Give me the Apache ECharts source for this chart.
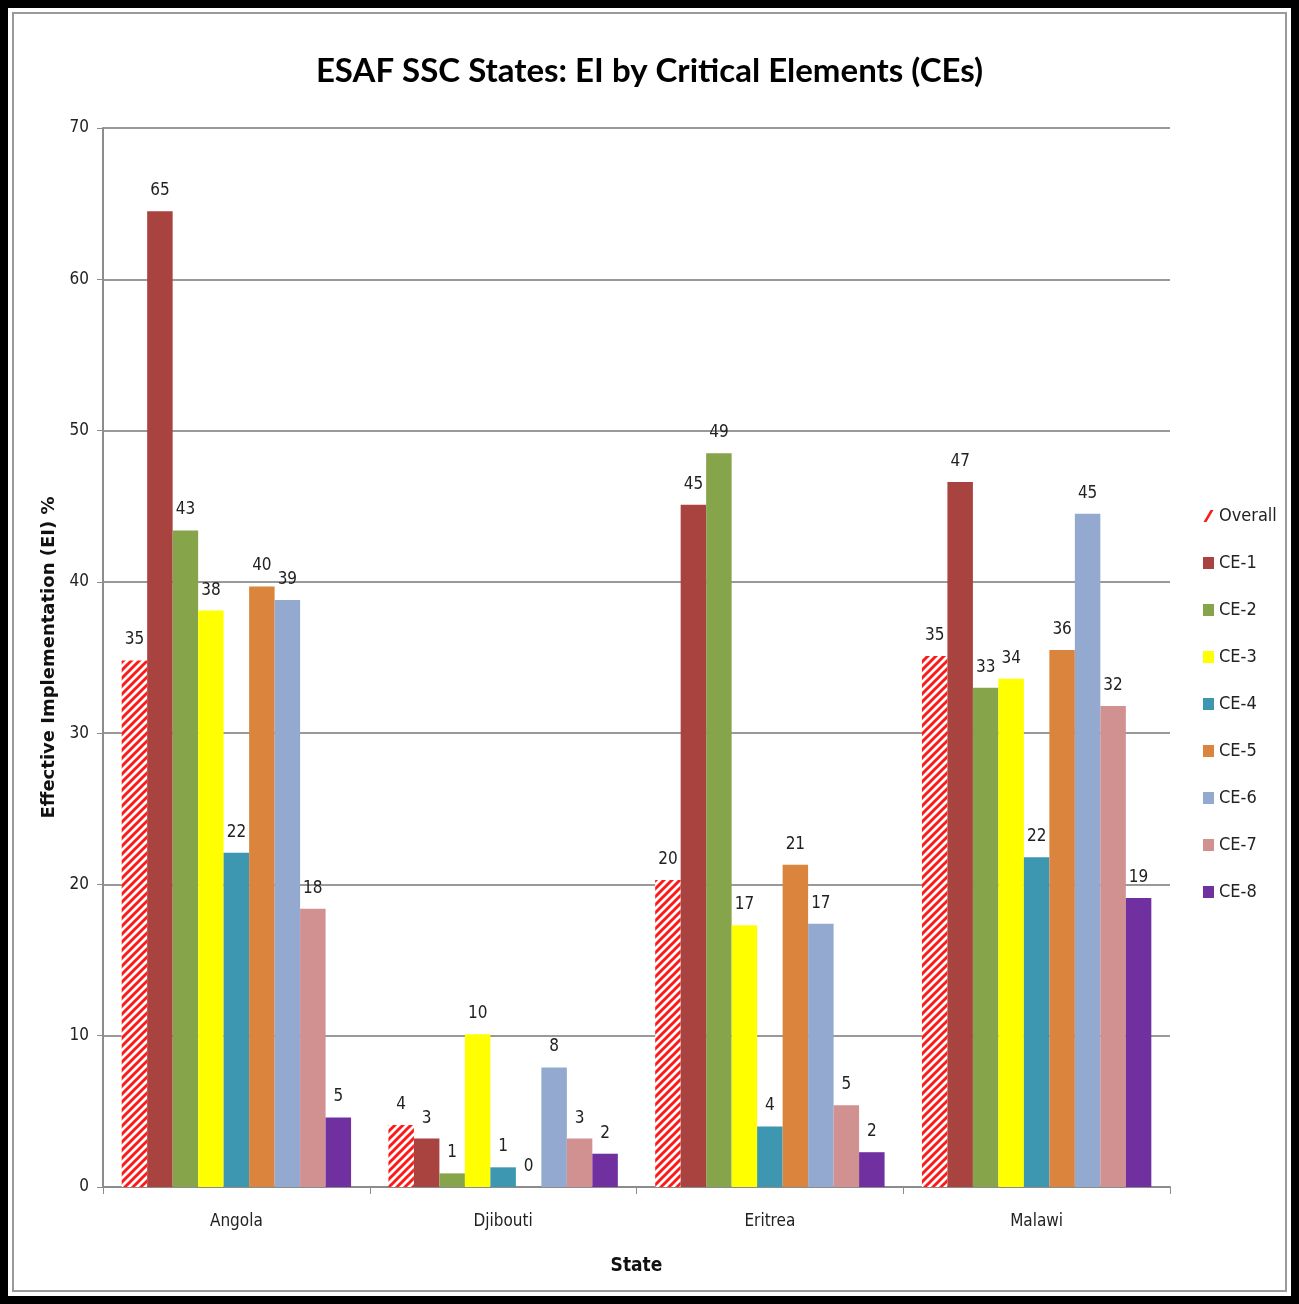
<!DOCTYPE html>
<html>
<head>
<meta charset="utf-8">
<script src="https://cdn.jsdelivr.net/npm/echarts@6/dist/echarts.min.js"></script>
<style>
  html, body { margin: 0; padding: 0; background: #fff; }
  #frame {
    position: absolute; left: 0; top: 0; width: 1299px; height: 1304px;
    box-sizing: border-box; border: 8px solid #000;
    box-shadow: inset 0 0 0 4px #fff, inset 0 0 0 6px #9a9a9a;
  }
  #chart { position: absolute; left: 0; top: 0; width: 1299px; height: 1304px; }
</style>
</head>
<body>
<div id="chart"></div>
<div id="frame"></div>
<script>
// data
const states = ['Angola', 'Djibouti', 'Eritrea', 'Malawi'];
const seriesNames = ['Overall', 'CE-1', 'CE-2', 'CE-3', 'CE-4', 'CE-5', 'CE-6', 'CE-7', 'CE-8'];
const overall = [34.8, 4.1, 20.3, 35.1];
const ce1 = [64.5, 3.2, 45.1, 46.6];
const ce2 = [43.4, 0.9, 48.5, 33.0];
const ce3 = [38.1, 10.1, 17.3, 33.6];
const ce4 = [22.1, 1.3, 4.0, 21.8];
const ce5 = [39.7, 0, 21.3, 35.5];
const ce6 = [38.8, 7.9, 17.4, 44.5];
const ce7 = [18.4, 3.2, 5.4, 31.8];
const ce8 = [4.6, 2.2, 2.3, 19.1];
const yTicks = [0, 10, 20, 30, 40, 50, 60, 70];

const colors = ['#ff1a1a', '#a9433f', '#86a44a', '#ffff00', '#3d97b0', '#db843d', '#93a9d0', '#d09190', '#7030a0'];
const values = [overall, ce1, ce2, ce3, ce4, ce5, ce6, ce7, ce8];
const font = "'Liberation Sans Narrow', 'Arial Narrow', 'DejaVu Sans Condensed', sans-serif";

// red diagonal hatch for the Overall bars
function hatch() {
  const c = document.createElement('canvas');
  c.width = 8; c.height = 8;
  const ctx = c.getContext('2d');
  ctx.fillStyle = '#fff';
  ctx.fillRect(0, 0, 8, 8);
  ctx.strokeStyle = '#ff1a1a';
  ctx.lineWidth = 3;
  ctx.beginPath();
  ctx.moveTo(-2, 10); ctx.lineTo(10, -2);
  ctx.moveTo(-6, 6); ctx.lineTo(6, -6);
  ctx.moveTo(2, 14); ctx.lineTo(14, 2);
  ctx.stroke();
  return c;
}

const chart = echarts.init(document.getElementById('chart'));

const series = seriesNames.map((name, i) => ({
  name: name,
  type: 'bar',
  barGap: '0%',
  barCategoryGap: '14%',
  data: values[i],
  itemStyle: {
    color: i === 0 ? { image: hatch(), repeat: 'repeat' } : colors[i]
  },
  label: {
    show: true,
    position: 'top',
    distance: 12,
    color: '#222',
    fontFamily: font,
    fontSize: 17,
    formatter: p => Math.round(p.value)
  }
}));

chart.setOption({
  animation: false,
  backgroundColor: '#fff',
  title: {
    text: 'ESAF SSC States: EI by Critical Elements (CEs)',
    left: 'center',
    top: 50,
    textStyle: { fontFamily: 'Lato, sans-serif', fontSize: 33, fontWeight: 'bold', color: '#000' }
  },
  legend: {
    orient: 'vertical',
    left: 1198,
    top: 502,
    itemWidth: 11,
    itemHeight: 12,
    itemGap: 29,
    textStyle: { fontFamily: font, fontSize: 18, color: '#222' },
    data: seriesNames.map((n, i) => i === 0
      ? { name: n, icon: 'path://M0,12 L7,0 L10,0 L3,12 Z', itemStyle: { color: '#ff1a1a' } }
      : { name: n, icon: 'rect' })
  },
  grid: { left: 103, right: 129, top: 128, bottom: 117 },
  xAxis: {
    type: 'category',
    data: states,
    name: 'State',
    nameLocation: 'middle',
    nameGap: 70,
    nameTextStyle: { fontFamily: font, fontSize: 19, fontWeight: 'bold', color: '#111' },
    axisLine: { lineStyle: { color: '#8c8c8c', width: 2 } },
    axisTick: { show: true, length: 7, lineStyle: { color: '#8c8c8c' } },
    axisLabel: { fontFamily: font, fontSize: 17, color: '#222', margin: 26 }
  },
  yAxis: {
    type: 'value',
    min: yTicks[0],
    max: yTicks[yTicks.length - 1],
    interval: 10,
    name: 'Effective Implementation (EI) %',
    nameLocation: 'middle',
    nameGap: 45,
    nameTextStyle: { fontFamily: "'DejaVu Sans', Verdana, sans-serif", fontSize: 18, fontWeight: 'bold', color: '#111' },
    axisLine: { show: true, lineStyle: { color: '#8c8c8c', width: 2 } },
    axisTick: { show: true, length: 6, lineStyle: { color: '#8c8c8c' } },
    axisLabel: { fontFamily: font, fontSize: 17, color: '#222', margin: 14 },
    splitLine: { lineStyle: { color: '#999', width: 2 } }
  },
  series: series
});
</script>
</body>
</html>
